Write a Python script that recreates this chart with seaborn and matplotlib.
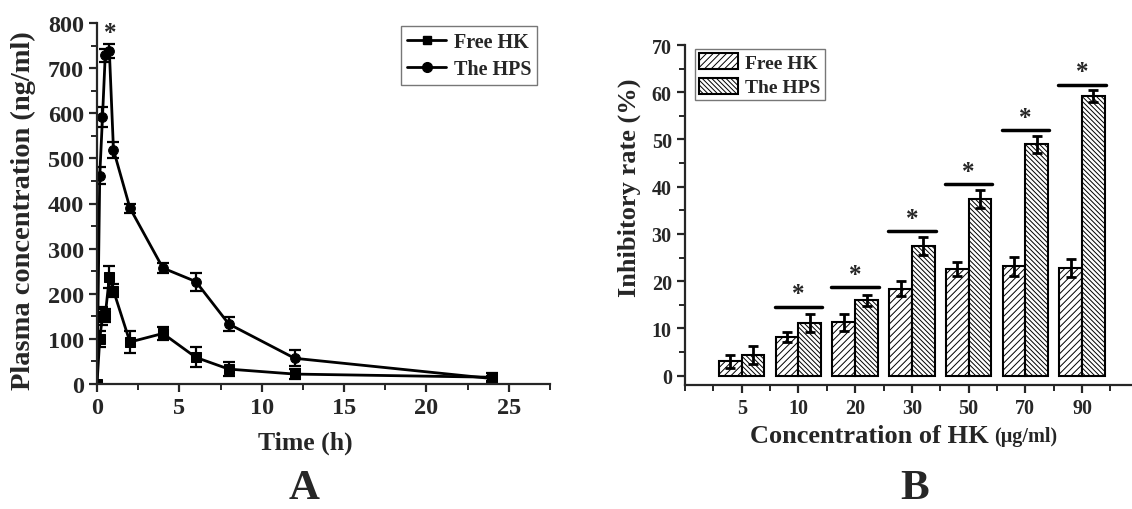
import numpy as np
import pandas as pd
import matplotlib
matplotlib.use("Agg")
import matplotlib.pyplot as plt
import seaborn as sns
from matplotlib.lines import Line2D
from matplotlib.patches import Patch
from matplotlib.ticker import MultipleLocator, FixedLocator

# ---- panel A: plasma concentration vs time ----
time_h = [0, 0.167, 0.333, 0.5, 0.75, 1, 2, 4, 6, 8, 12, 24]
free_hk = [0, 100, 151, 152, 237, 207, 93, 112, 59, 33, 22, 15]
free_hk_sd = [0, 18, 20, 15, 25, 15, 25, 15, 22, 15, 12, 10]
hps = [0, 462, 591, 728, 738, 519, 390, 257, 227, 133, 57, 12]
hps_sd = [0, 18, 22, 15, 15, 18, 10, 12, 20, 15, 18, 5]

# ---- panel B: inhibitory rate vs concentration ----
conc_labels = ["5", "10", "20", "30", "50", "70", "90"]
free_rate = [3.0, 8.2, 11.3, 18.35, 22.6, 23.15, 22.8]
free_rate_sd = [1.3, 1.0, 1.8, 1.6, 1.5, 2.0, 1.9]
hps_rate = [4.3, 11.1, 15.9, 27.4, 37.4, 49.0, 59.2]
hps_rate_sd = [1.9, 1.85, 1.2, 1.9, 1.95, 1.8, 1.2]
sig_y = [None, 14.6, 18.7, 30.6, 40.6, 51.9, 61.6]

groups = ["Free HK", "The HPS"]

sns.set_style("ticks")
plt.rcParams["font.family"] = ["Liberation Serif", "DejaVu Serif"]
plt.rcParams["font.weight"] = "bold"
plt.rcParams["axes.linewidth"] = 1.6
plt.rcParams["hatch.linewidth"] = 0.7

fig = plt.figure(figsize=(11.32, 5.10), dpi=100)
ax1 = fig.add_axes([97 / 1132, 1 - 385 / 510, 453 / 1132, 361 / 510])
ax2 = fig.add_axes([685 / 1132, 1 - 386 / 510, 447 / 1132, 340 / 510])

# panel A
df_a = pd.DataFrame({
    "time": time_h * 2,
    "conc": free_hk + hps,
    "group": [groups[0]] * len(time_h) + [groups[1]] * len(time_h),
})
sns.lineplot(data=df_a, x="time", y="conc", hue="group", style="group",
             markers={"Free HK": "s", "The HPS": "o"}, dashes=False,
             palette=["black", "black"], linewidth=2, markersize=7,
             markeredgecolor="black", legend=False, ax=ax1)
for y, sd in [(free_hk, free_hk_sd), (hps, hps_sd)]:
    ax1.errorbar(time_h, y, yerr=sd, fmt="none", ecolor="black",
                 elinewidth=1.6, capsize=4, capthick=1.6)
ax1.text(0.78, 780, "*", ha="center", va="center", fontsize=18, fontweight="bold")

ax1.set_xlim(0, 27.5)
ax1.set_ylim(0, 800)
ax1.xaxis.set_major_locator(MultipleLocator(5))
ax1.xaxis.set_minor_locator(MultipleLocator(2.5))
ax1.yaxis.set_major_locator(MultipleLocator(100))
ax1.yaxis.set_minor_locator(MultipleLocator(50))
ax1.tick_params(which="major", length=6, width=1.6, labelsize=17.5, direction="out")
ax1.tick_params(which="minor", length=4, width=1.4, direction="out")
for s in ["top", "right"]:
    ax1.spines[s].set_visible(False)
ax1.set_xlabel("Time (h)", fontsize=18.5, fontweight="bold")
ax1.set_ylabel("Plasma concentration (ng/ml)", fontsize=20.5, fontweight="bold")
ax1.xaxis.set_label_coords(0.459, -0.161)
ax1.xaxis.label.set_va("center")
ax1.yaxis.set_label_coords(-0.163, 0.482)
ax1.yaxis.label.set_va("center")

h1 = [Line2D([], [], color="black", lw=2, marker="s", markersize=6),
      Line2D([], [], color="black", lw=2, marker="o", markersize=7)]
leg1 = ax1.legend(h1, groups, loc="upper right", bbox_to_anchor=(0.972, 0.993),
                  fontsize=14.5, frameon=True, fancybox=False, framealpha=1,
                  edgecolor="#777777", handlelength=1.9, handletextpad=0.4,
                  borderpad=0.3, labelspacing=0.35, borderaxespad=0)
leg1.get_frame().set_linewidth(1.0)

# panel B
df_b = pd.DataFrame({
    "conc": conc_labels * 2,
    "rate": free_rate + hps_rate,
    "group": [groups[0]] * len(conc_labels) + [groups[1]] * len(conc_labels),
})
sns.barplot(data=df_b, x="conc", y="rate", hue="group", order=conc_labels,
            hue_order=groups, errorbar=None, width=0.8, dodge=True,
            palette={"Free HK": "white", "The HPS": "white"},
            edgecolor="black", linewidth=1.5, legend=False, ax=ax2)
hatches = ["/////", "\\\\\\\\\\\\\\"]
for cont, hatch, sd in zip(ax2.containers, hatches, [free_rate_sd, hps_rate_sd]):
    xs, ys = [], []
    for bar in cont:
        bar.set_hatch(hatch)
        xs.append(bar.get_x() + bar.get_width() / 2)
        ys.append(bar.get_height())
    ax2.errorbar(xs, ys, yerr=sd, fmt="none", ecolor="black",
                 elinewidth=2, capsize=3.5, capthick=2)

pos = np.arange(len(conc_labels))
for p, sy in zip(pos, sig_y):
    if sy is None:
        continue
    ax2.plot([p - 0.42, p + 0.42], [sy, sy], color="black", lw=2.5)
    ax2.text(p, sy + 2.7, "*", ha="center", va="center", fontsize=18, fontweight="bold")

ax2.set_xlim(-1, 6.88)
ax2.set_ylim(-2, 70)
ax2.xaxis.set_minor_locator(FixedLocator(np.arange(-1, 7.01, 0.5)))
ax2.yaxis.set_major_locator(MultipleLocator(10))
ax2.yaxis.set_minor_locator(MultipleLocator(5))
ax2.set_yticks(np.arange(0, 71, 10))
ax2.tick_params(which="major", length=6, width=1.6, labelsize=14.5, direction="out")
ax2.tick_params(which="minor", length=4, width=1.4, direction="out")
for s in ["top", "right"]:
    ax2.spines[s].set_visible(False)
ax2.set_xlabel("Concentration of HK", fontsize=19, fontweight="bold")
ax2.xaxis.set_label_coords(0.145, -0.15)
ax2.xaxis.label.set_ha("left")
ax2.xaxis.label.set_va("center")
ax2.annotate("(μg/ml)", xy=(1, 0.5), xycoords=ax2.xaxis.label, xytext=(4, 0),
             textcoords="offset points", ha="left", va="center",
             fontsize=14.5, fontweight="bold")
ax2.set_ylabel("Inhibitory rate (%)", fontsize=19, fontweight="bold")
ax2.yaxis.set_label_coords(-0.125, 0.582)
ax2.yaxis.label.set_va("center")

h2 = [Patch(facecolor="white", edgecolor="black", hatch=h, linewidth=1.5) for h in hatches]
leg2 = ax2.legend(h2, groups, loc="upper left", bbox_to_anchor=(0.022, 0.988),
                  fontsize=14, frameon=True, fancybox=False, framealpha=1,
                  edgecolor="#777777", handlelength=2.0, handleheight=0.9,
                  handletextpad=0.4, borderpad=0.2, labelspacing=0.3,
                  borderaxespad=0)
leg2.get_frame().set_linewidth(1.0)

fig.text(304 / 1132, 1 - 489 / 510, "A", ha="center", va="center",
         fontsize=31, fontweight="bold")
fig.text(915 / 1132, 1 - 489 / 510, "B", ha="center", va="center",
         fontsize=31, fontweight="bold")

fig.savefig("out.png", dpi=100, facecolor="white")
